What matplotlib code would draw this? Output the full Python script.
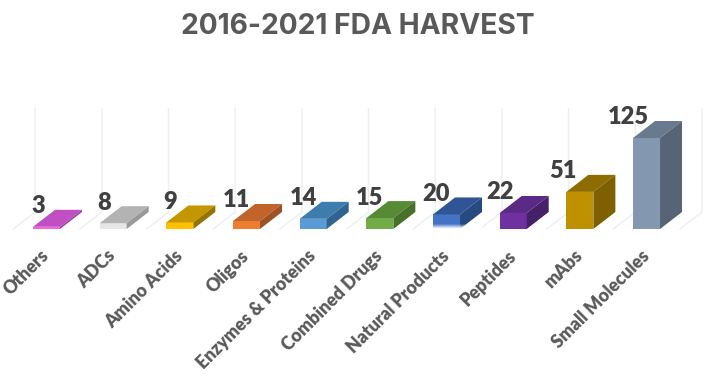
import numpy as np
import matplotlib
matplotlib.use("Agg")
import matplotlib.pyplot as plt
from matplotlib.patches import Polygon
from matplotlib.transforms import ScaledTranslation

categories = ["Others", "ADCs", "Amino Acids", "Oligos", "Enzymes & Proteins",
              "Combined Drugs", "Natural Products", "Peptides", "mAbs", "Small Molecules"]
values = [3, 8, 9, 11, 14, 15, 20, 22, 51, 125]

front_colors = ["#f565e6", "#e6e6e6", "#ffc000", "#ed7d31", "#5b9bd5",
                "#70ad47", "#4472c4", "#7030a0", "#bf9000", "#8497b0"]
top_colors = ["#c04fc4", "#b3b3b3", "#c49600", "#c0642a", "#3f7cae",
              "#568a35", "#2f5597", "#5a2a86", "#8f6c00", "#6a7a8e"]
side_colors = ["#a03fa3", "#999999", "#947300", "#9c5225", "#2f6390",
               "#46702b", "#264a80", "#47206a", "#7f6000", "#566475"]

# value labels sit a bit off the bar's left edge, in pixels
label_dx_px = [5, 4, 4, 3, 3.5, 3.5, 3, 0, -3, -5]

# pixel scale of the picture
W, H = 706, 388
px_per_cat = 66.67
px_per_val = 0.728
base_px = 229
first_px = 46.5

bar_w = 27 / px_per_cat
dx = 22 / px_per_cat
dy = 17 / px_per_val

fig = plt.figure(figsize=(W / 100, H / 100), dpi=100)
ax = fig.add_axes([0, (H - base_px) / H, 1, base_px / H])
for s in ax.spines.values():
    s.set_visible(False)
ax.set_yticks([])

# grid walls
grid_top = 142
for i in range(len(values) + 1):
    gx = i - 0.5
    ax.plot([gx, gx + dx, gx + dx], [0, dy, dy + grid_top], color="#eeeeee", lw=1, zorder=1, clip_on=False)

x = np.arange(len(values))
ax.bar(x, values, width=bar_w, color=front_colors, zorder=3)
for i, v in enumerate(values):
    l, r = i - bar_w / 2, i + bar_w / 2
    ax.add_patch(Polygon([(l, v), (r, v), (r + dx, v + dy), (l + dx, v + dy)], fc=top_colors[i], ec="none", zorder=3))
    ax.add_patch(Polygon([(r, 0), (r + dx, dy), (r + dx, v + dy), (r, v)], fc=side_colors[i], ec="none", zorder=3))
    ax.text(l + label_dx_px[i] / px_per_cat, v + dy + 3.5 / px_per_val, str(v), ha="center", va="center",
            fontsize=17, fontweight="heavy", family="Lato", color="#404040", zorder=4)

# the Natural Products bar fades out at its foot
fade = np.ones((32, 2, 4))
fade[:, :, 3] = np.clip(np.linspace(-0.6, 1.1, 32), 0, 1)[:, None]
i = categories.index("Natural Products")
ax.imshow(fade, extent=(i - bar_w / 2, i + bar_w / 2 + dx, 0, 10), aspect="auto", zorder=3.5)
ax.set_xlim(-first_px / px_per_cat, (W - first_px) / px_per_cat)
ax.set_ylim(0, base_px / px_per_val)

ax.set_xticks(x)
ax.set_xticklabels(categories, rotation=45, ha="right", rotation_mode="anchor",
                   fontsize=12.8, fontweight="heavy", family="Lato", color="#595959")
ax.tick_params(axis="x", length=0, pad=13)
shift = ScaledTranslation(-6 / 100, 0, fig.dpi_scale_trans)
for lab in ax.get_xticklabels():
    lab.set_transform(lab.get_transform() + shift)

fig.text(358 / W, 1 - 26 / H, "2016-2021 FDA HARVEST", ha="center", va="center",
         fontsize=20.3, fontweight="bold", family="Inter", color="#595959")

fig.savefig("out.png", dpi=100)
